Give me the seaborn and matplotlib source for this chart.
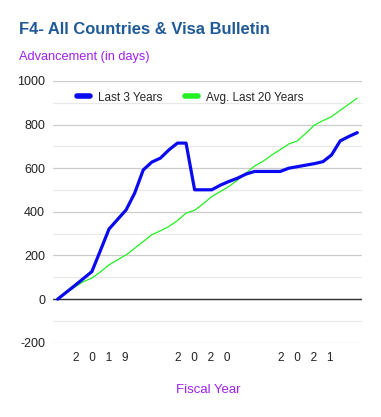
import numpy as np
import pandas as pd
import matplotlib
matplotlib.use("Agg")
import matplotlib.pyplot as plt
import seaborn as sns
from matplotlib.lines import Line2D

# monthly advancement (days), 36 months across fiscal years 2019-2021
months = list(range(36))
last_3_years = [0, 31, 62, 94, 126, 223, 321, 365, 409, 486, 592, 628,
                646, 684, 715, 715, 501, 501, 501, 522, 539, 554, 573, 585,
                585, 585, 585, 600, 607, 614, 621, 630, 661, 725, 745, 763]
avg_last_20 = [0, 28, 55, 80, 96, 125, 157, 180, 203, 233, 264, 295,
               313, 333, 360, 394, 407, 437, 470, 493, 516, 545, 577, 610,
               632, 660, 685, 711, 725, 760, 798, 818, 836, 865, 893, 921]
year_ticks = [5, 17, 29]
year_labels = ["2   0   1   9", "2   0   2   0", "2   0   2   1"]
series_names = ["Last 3 Years", "Avg. Last 20 Years"]

df = pd.DataFrame({
    "Month": months * 2,
    "Days": last_3_years + avg_last_20,
    "Series": [series_names[0]] * 36 + [series_names[1]] * 36,
})

sns.set_style("white")
plt.rcParams['font.family'] = ['Liberation Sans', 'DejaVu Sans']
plt.rcParams['axes.unicode_minus'] = False

fig = plt.figure(figsize=(3.81, 4.17), dpi=100)
ax = fig.add_axes([0.140, 0.178, 0.809, 0.628])

colors = {series_names[0]: "#0a0af0", series_names[1]: "#22f022"}
sns.lineplot(data=df[df.Series == series_names[1]], x="Month", y="Days",
             color=colors[series_names[1]], linewidth=0.9, ax=ax, legend=False)
sns.lineplot(data=df[df.Series == series_names[0]], x="Month", y="Days",
             color=colors[series_names[0]], linewidth=2.3, ax=ax, legend=False)

ax.set_xlim(-0.5, 35.5)
ax.set_ylim(-200, 1000)
ax.set_yticks(np.arange(-200, 1001, 200))
ax.set_yticks(np.arange(-100, 1000, 200), minor=True)
ax.grid(axis='y', which='major', color='#cccccc', linewidth=0.9)
ax.grid(axis='y', which='minor', color='#e8e8e8', linewidth=0.9)
ax.axhline(0, color='#333333', linewidth=1.0, zorder=1)
ax.set_axisbelow(True)
for s in ax.spines.values():
    s.set_visible(False)
ax.set_xticks(year_ticks)
ax.set_xticklabels(year_labels)
ax.tick_params(axis='both', length=0, labelsize=9, colors='#222222')
ax.tick_params(axis='x', labelsize=8.5, pad=7)
ax.tick_params(axis='y', pad=6)
ax.set_xlabel("")
ax.set_ylabel("")

handles = [Line2D([0], [0], color=colors[n], linewidth=4) for n in series_names]
ax.legend(handles, series_names, loc='upper center', bbox_to_anchor=(0.445, 1.0),
          ncol=2, frameon=False, fontsize=8.5, handlelength=1.1, handletextpad=0.7,
          columnspacing=1.9)

fig.text(0.05, 0.93, "F4- All Countries & Visa Bulletin", fontsize=11.9,
         fontweight='bold', color='#1f5a96', va='center')
fig.text(0.05, 0.864, "Advancement (in days)", fontsize=9.2, color='#a020f0', va='center')
fig.text(0.546, 0.065, "Fiscal Year", fontsize=9.5, color='#a020f0', ha='center', va='center')

fig.savefig("out.png", dpi=100)
